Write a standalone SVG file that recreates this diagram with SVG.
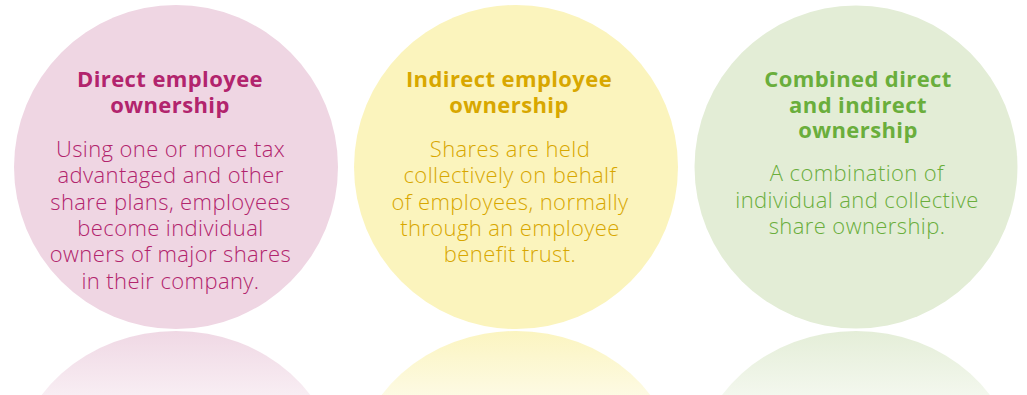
<svg xmlns="http://www.w3.org/2000/svg" width="1027" height="395" viewBox="0 0 1027 395">
<defs>
<linearGradient id="fadeP" x1="0" y1="0" x2="0" y2="1"><stop offset="0" stop-color="#efd6e3" stop-opacity="0.95"/><stop offset="0.4" stop-color="#efd6e3" stop-opacity="0"/></linearGradient>
<linearGradient id="fadeY" x1="0" y1="0" x2="0" y2="1"><stop offset="0" stop-color="#fbf4bd" stop-opacity="0.95"/><stop offset="0.4" stop-color="#fbf4bd" stop-opacity="0"/></linearGradient>
<linearGradient id="fadeG" x1="0" y1="0" x2="0" y2="1"><stop offset="0" stop-color="#e3edd6" stop-opacity="0.95"/><stop offset="0.4" stop-color="#e3edd6" stop-opacity="0"/></linearGradient>
<style>
.t{font-family:"Open Sans","Noto Sans","Liberation Sans",sans-serif;font-weight:700;font-size:22px;letter-spacing:0.4px;text-anchor:middle}
.b{font-family:"Open Sans","Noto Sans","Liberation Sans",sans-serif;font-weight:300;font-size:22px;letter-spacing:0.4px;text-anchor:middle}
.p{fill:#b2246d}.y{fill:#d8a700}.g{fill:#6aae3c}
</style>
</defs>
<rect width="1027" height="395" fill="#ffffff"/>
<g id="direct">
<circle cx="176" cy="167" r="162" fill="#efd6e3"/>
<ellipse cx="176" cy="476" rx="162" ry="145" fill="url(#fadeP)"/>
<text class="t p" x="170" y="87">Direct employee</text>
<text class="t p" x="170" y="112.5">ownership</text>
<text class="b p" x="170.5" y="157">Using one or more tax</text>
<text class="b p" x="170.5" y="183.3">advantaged and other</text>
<text class="b p" x="170.5" y="209.6">share plans, employees</text>
<text class="b p" x="170.5" y="235.9">become individual</text>
<text class="b p" x="170.5" y="262.2">owners of major shares</text>
<text class="b p" x="170.5" y="288.5">in their company.</text>
</g>
<g id="indirect">
<circle cx="516" cy="167" r="162" fill="#fbf4bd"/>
<ellipse cx="516" cy="476" rx="162" ry="145" fill="url(#fadeY)"/>
<text class="t y" x="509" y="87">Indirect employee</text>
<text class="t y" x="509" y="112.5">ownership</text>
<text class="b y" x="510" y="157">Shares are held</text>
<text class="b y" x="510" y="183.3">collectively on behalf</text>
<text class="b y" x="510" y="209.6">of employees, normally</text>
<text class="b y" x="510" y="235.9">through an employee</text>
<text class="b y" x="510" y="262.2">benefit trust.</text>
</g>
<g id="combined">
<circle cx="856" cy="167" r="161.5" fill="#e3edd6"/>
<ellipse cx="856" cy="476" rx="161.5" ry="145" fill="url(#fadeG)"/>
<text class="t g" x="858" y="87">Combined direct</text>
<text class="t g" x="858" y="112.5">and indirect</text>
<text class="t g" x="858" y="138">ownership</text>
<text class="b g" x="857" y="181">A combination of</text>
<text class="b g" x="857" y="207.5">individual and collective</text>
<text class="b g" x="857" y="234">share ownership.</text>
</g>
<g id="connectors"/>
</svg>
